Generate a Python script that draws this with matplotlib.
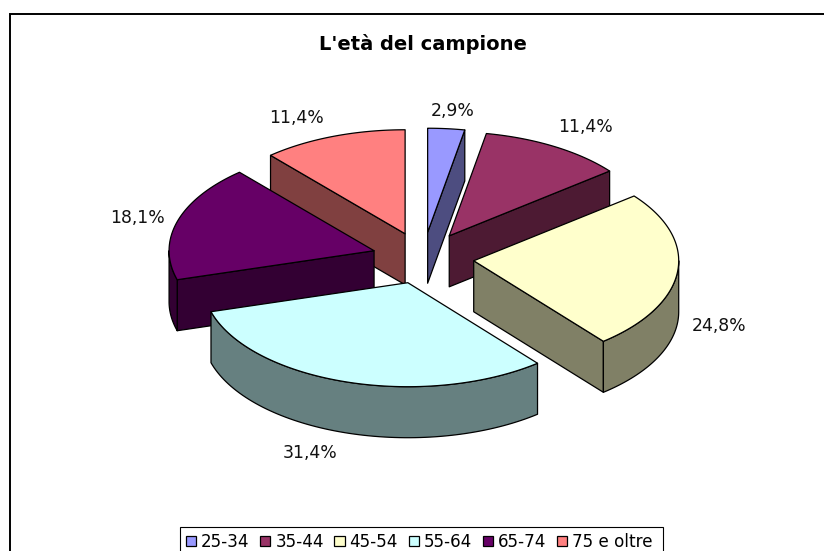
import numpy as np
import matplotlib
matplotlib.use('Agg')
import matplotlib.pyplot as plt
from matplotlib.patches import Patch, Polygon, Rectangle

labels = ['25-34', '35-44', '45-54', '55-64', '65-74', '75 e oltre']
values = [2.9, 11.4, 24.8, 31.4, 18.1, 11.4]
value_labels = ['2,9%', '11,4%', '24,8%', '31,4%', '18,1%', '11,4%']
colors = ['#9999FF', '#993366', '#FFFFCC', '#CCFFFF', '#660066', '#FF8080']
side_colors = ['#4D4D80', '#4D1A33', '#808066', '#668080', '#330033', '#804040']

# pie geometry in image pixels
CX, CY = 423, 258
RX, RY = 205, 104
EXPLODE = 51
DEPTH = 51
LW = 0.9
label_pos = [(453, 111), (586, 127), (719, 326), (310, 453), (138, 218), (297, 118)]


def rim(center, a0, a1, n=80):
    t = np.radians(np.linspace(a0, a1, n))
    return np.column_stack([center[0] + RX * np.sin(t), center[1] - RY * np.cos(t)])


def draw_wedge(ax, a0, a1, color, side, z):
    mid = np.radians((a0 + a1) / 2)
    apex = (CX + EXPLODE * np.sin(mid), CY - EXPLODE * RY / RX * np.cos(mid))
    down = np.array([0, DEPTH])

    # radial walls, only those that face the viewer
    for ang, visible in ((a1, np.sin(np.radians(a1)) > 0), (a0, np.sin(np.radians(a0)) < 0)):
        if visible:
            p = rim(apex, ang, ang, 1)[0]
            wall = [apex, p, p + down, apex + down]
            ax.add_patch(Polygon(wall, fc=side, ec='black', lw=LW, zorder=z, joinstyle='round'))

    # outer wall on the lower half of the ellipse
    lo, hi = max(a0, 90), min(a1, 270)
    if lo < hi:
        arc = rim(apex, lo, hi)
        ax.add_patch(Polygon(np.vstack([arc, (arc + down)[::-1]]), fc=side, ec='black', lw=LW,
                             zorder=z, joinstyle='round'))

    top = np.vstack([[apex], rim(apex, a0, a1)])
    ax.add_patch(Polygon(top, fc=color, ec='black', lw=LW, zorder=z + 0.5, joinstyle='round'))


fig = plt.figure(figsize=(8.24, 5.51), dpi=100)
ax = fig.add_axes([0, 0, 1, 1])
ax.set_xlim(0, 824)
ax.set_ylim(551, 0)
ax.axis('off')

# chart area runs past the right and bottom of the picture
ax.add_patch(Rectangle((10, 14), 900, 600, fc='white', ec='black', lw=1.4, zorder=0))

edges = np.cumsum([0] + values) / sum(values) * 360
paint_order = [0, 1, 5, 4, 2, 3]
for z, i in enumerate(paint_order):
    draw_wedge(ax, edges[i], edges[i + 1], colors[i], side_colors[i], z + 1)

for txt, (x, y) in zip(value_labels, label_pos):
    ax.text(x, y, txt, ha='center', va='center', fontsize=12.4, color='#111111',
            family='DejaVu Sans', zorder=20)

ax.text(423, 44, "L'età del campione", ha='center', va='center', fontsize=14,
        fontweight='bold', family='DejaVu Sans', zorder=20)

ax.add_patch(Rectangle((180, 527), 483, 40, fc='white', ec='black', lw=0.8, zorder=19))
handles = [Patch(fc=c, ec='black', lw=0.9) for c in colors]
leg = ax.legend(handles, labels, loc='upper left', bbox_to_anchor=(180 / 824, 1 - 527 / 551),
                ncol=6, fontsize=12.1, frameon=False, handlelength=0.6, handleheight=0.6,
                handletextpad=0.3, columnspacing=0.635, borderpad=0.35, borderaxespad=0)
leg.set_zorder(20)

fig.savefig('out.png', dpi=100)
